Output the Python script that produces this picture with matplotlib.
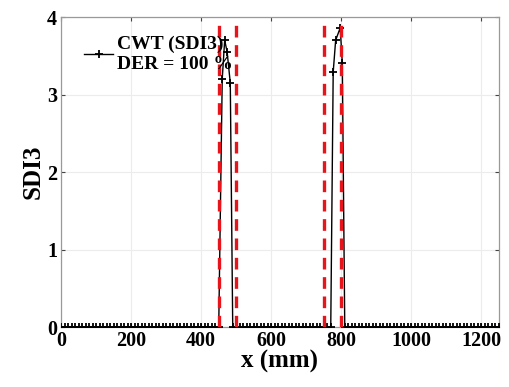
import numpy as np
import matplotlib
matplotlib.use("Agg")
import matplotlib.pyplot as plt

plt.rcParams['font.family'] = ['Liberation Serif', 'DejaVu Serif']
plt.rcParams['font.weight'] = 'bold'

# baseline sample positions (mm) with zero SDI3
base_left_x = np.arange(0, 451, 10)
base_right_x = np.arange(490, 771, 10)
base_end_x = np.arange(810, 1251, 10)
# peak samples
peak1_x = [460, 467, 474, 483]
peak1_y = [3.20, 3.70, 3.55, 3.15]
peak2_x = [777, 784, 797, 803]
peak2_y = [3.29, 3.70, 3.86, 3.41]

x = np.concatenate([base_left_x, peak1_x, base_right_x, peak2_x, base_end_x])
y = np.concatenate([np.zeros(len(base_left_x)), peak1_y, np.zeros(len(base_right_x)),
                    peak2_y, np.zeros(len(base_end_x))])

defect_edges = [450, 500, 750, 800]
defect_height = 3.9

fig = plt.figure(figsize=(5.1, 3.87), dpi=100)
ax = fig.add_axes([0.12, 0.155, 0.858, 0.801])

ax.plot(x, y, color='black', lw=1.0, marker='+', ms=6, mew=1.3,
        label='CWT (SDI3)\nDER = 100 %', zorder=3)
for e in defect_edges:
    ax.plot([e, e], [0, defect_height], color='#e8141c', lw=2.4,
            dashes=(3.5, 2.3), zorder=4)

ax.set_xlim(0, 1250)
ax.set_ylim(0, 4)
ax.set_xticks([0, 200, 400, 600, 800, 1000, 1200])
ax.set_yticks([0, 1, 2, 3, 4])
ax.grid(True, color='#ececec', lw=0.8)
ax.set_axisbelow(True)
ax.tick_params(direction='in', top=True, right=True, labelsize=14.5,
               color='#444444', length=3, pad=3)
for t in ax.get_xticklabels() + ax.get_yticklabels():
    t.set_fontweight('bold')
for s in ax.spines.values():
    s.set_color('#999999')
    s.set_linewidth(0.9)

ax.set_xlabel('x (mm)', fontsize=18, fontweight='bold', labelpad=-1)
ax.set_ylabel('SDI3', fontsize=18, fontweight='bold', labelpad=2)

leg = ax.legend(loc='upper left', frameon=False, fontsize=14,
                handlelength=1.5, handletextpad=0.2, labelspacing=0.05,
                borderaxespad=0.0, bbox_to_anchor=(0.035, 0.965))
for t in leg.get_texts():
    t.set_fontweight('bold')

fig.savefig('out.png', dpi=100)
